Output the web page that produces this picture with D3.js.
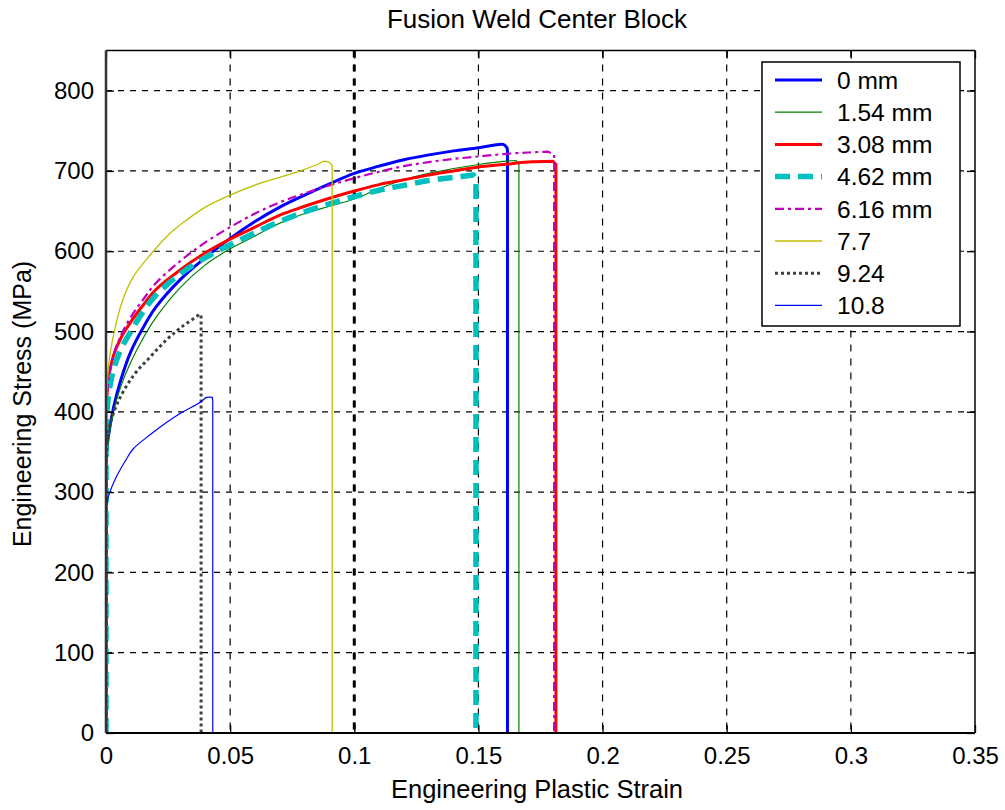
<!DOCTYPE html>
<html><head><meta charset="utf-8">
<script src="https://cdn.jsdelivr.net/npm/d3@7"></script>
<style>
body{margin:0;background:#fff}
svg{display:block}
text{font-family:"Liberation Sans",Arial,sans-serif;fill:#000}
</style>
</head><body>
<svg id="chart" width="1005" height="810"></svg>
<script>
// ---------- data ----------
const chartTitle = "Fusion Weld Center Block";
const xLabel = "Engineering Plastic Strain";
const yLabel = "Engineering Stress (MPa)";
const xTickValues = [0, 0.05, 0.1, 0.15, 0.2, 0.25, 0.3, 0.35];
const xTickLabels = ["0", "0.05", "0.1", "0.15", "0.2", "0.25", "0.3", "0.35"];
const yTickValues = [0, 100, 200, 300, 400, 500, 600, 700, 800];
const yTickLabels = ["0", "100", "200", "300", "400", "500", "600", "700", "800"];
const seriesNames = ["0 mm", "1.54 mm", "3.08 mm", "4.62 mm", "6.16 mm", "7.7", "9.24", "10.8"];
const markerStrain = 0.1;

// each curve: elastic rise at 0, hardening points, then the fracture drop (last point, stress 0)
const strain0mm   = [0, 0, 0.001, 0.003, 0.006, 0.01, 0.015, 0.02, 0.03, 0.04, 0.05, 0.06, 0.07, 0.08, 0.09, 0.1, 0.11, 0.12, 0.13, 0.14, 0.15, 0.156, 0.16, 0.1615, 0.1617];
const stress0mm   = [0, 340, 370, 405, 440, 475, 505, 530, 565, 592, 616, 637, 655, 670, 684, 697, 706, 714, 720, 725, 729, 732, 733, 729, 0];
const strain154mm = [0, 0, 0.001, 0.003, 0.006, 0.01, 0.015, 0.02, 0.03, 0.04, 0.05, 0.06, 0.07, 0.08, 0.09, 0.1, 0.11, 0.12, 0.13, 0.14, 0.15, 0.16, 0.165, 0.1663];
const stress154mm = [0, 330, 365, 400, 432, 462, 492, 517, 555, 583, 603, 619, 635, 647, 656, 665, 678, 689, 697, 703, 708, 712, 713, 0];
const strain308mm = [0, 0, 0.001, 0.003, 0.006, 0.01, 0.015, 0.02, 0.03, 0.04, 0.05, 0.06, 0.07, 0.08, 0.09, 0.1, 0.11, 0.12, 0.13, 0.14, 0.15, 0.16, 0.17, 0.18, 0.1812];
const stress308mm = [0, 400, 440, 470, 492, 512, 533, 552, 577, 598, 615, 630, 645, 656, 666, 675, 683, 689, 695, 700, 705, 708, 711, 712, 0];
const strain462mm = [0, 0, 0.001, 0.003, 0.006, 0.01, 0.015, 0.02, 0.03, 0.04, 0.05, 0.06, 0.07, 0.08, 0.09, 0.1, 0.11, 0.12, 0.13, 0.14, 0.148, 0.149];
const stress462mm = [0, 380, 420, 452, 478, 500, 525, 545, 572, 592, 608, 623, 637, 649, 659, 668, 676, 682, 688, 692, 695, 0];
const strain616mm = [0, 0, 0.001, 0.003, 0.006, 0.01, 0.015, 0.02, 0.03, 0.04, 0.05, 0.06, 0.07, 0.08, 0.09, 0.1, 0.11, 0.12, 0.13, 0.14, 0.15, 0.16, 0.17, 0.178, 0.1805];
const stress616mm = [0, 410, 440, 470, 495, 518, 540, 560, 588, 611, 630, 647, 661, 672, 682, 691, 699, 706, 711, 715, 718, 721, 723, 724, 0];
const strain77    = [0, 0, 0.0008, 0.0028, 0.0068, 0.011, 0.0177, 0.025, 0.0312, 0.04, 0.05, 0.0634, 0.0783, 0.085, 0.0877, 0.0898, 0.0911];
const stress77    = [0, 300, 450, 492, 540, 568, 595, 620, 636, 655, 670, 686, 700, 708, 712, 711, 0];
const strain924   = [0, 0, 0.001, 0.0045, 0.011, 0.0177, 0.0245, 0.031, 0.0366, 0.0375, 0.0383];
const stress924   = [0, 330, 375, 410, 445, 468, 490, 507, 519, 522, 0];
const strain108   = [0, 0, 0.001, 0.004, 0.008, 0.011, 0.018, 0.0245, 0.031, 0.038, 0.0405, 0.0428, 0.043];
const stress108   = [0, 280, 295, 318, 340, 354, 372, 387, 400, 412, 418, 418, 0];

const seriesStrain = [strain0mm, strain154mm, strain308mm, strain462mm, strain616mm, strain77, strain924, strain108];
const seriesStress = [stress0mm, stress154mm, stress308mm, stress462mm, stress616mm, stress77, stress924, stress108];

// ---------- styles ----------
const seriesColors = ["#0000ff", "#008000", "#ff0000", "#00bfbf", "#bf00bf", "#bfbf00", "#404040", "#0000ff"];
const seriesWidths = [3, 1.2, 3, 5.5, 2.2, 1.3, 3, 1.2];
const seriesDashes = [null, null, null, "15,8", "9,4,3,4", null, "3,3", null];

// ---------- layout ----------
const svg = d3.select("#chart");
const L = 106, R = 975, T = 50.5, B = 733;
const x = d3.scaleLinear().domain([0, 0.35]).range([L, R]);
const y = d3.scaleLinear().domain([0, 850]).range([B, T]);

svg.append("rect").attr("width", 1005).attr("height", 810).attr("fill", "#fff");

// grid
const grid = svg.append("g");
grid.selectAll("line.vg").data(xTickValues.slice(1, -1)).enter().append("line")
  .attr("x1", d => x(d)).attr("x2", d => x(d)).attr("y1", T).attr("y2", B)
  .attr("stroke", "#000").attr("stroke-width", 1.2).attr("stroke-dasharray", "7,7");
grid.selectAll("line.hg").data(yTickValues.slice(1)).enter().append("line")
  .attr("x1", L).attr("x2", R).attr("y1", d => y(d)).attr("y2", d => y(d))
  .attr("stroke", "#000").attr("stroke-width", 1.2).attr("stroke-dasharray", "6,6");

// marker line at 0.1
svg.append("line").attr("x1", x(markerStrain)).attr("x2", x(markerStrain)).attr("y1", T).attr("y2", B)
  .attr("stroke", "#000").attr("stroke-width", 3).attr("stroke-dasharray", "7,7");

// curves
svg.append("clipPath").attr("id", "clip").append("rect")
  .attr("x", L).attr("y", T).attr("width", R - L).attr("height", B - T);
const smooth = d3.line().x(d => x(d[0])).y(d => y(d[1])).curve(d3.curveCatmullRom.alpha(0.5));
const curves = svg.append("g").attr("clip-path", "url(#clip)");
seriesNames.forEach((name, i) => {
  const pts = seriesStrain[i].map((s, k) => [s, seriesStress[i][k]]);
  const n = pts.length;
  const body = pts.slice(1, n - 1);
  const last = body[body.length - 1];
  let d = `M${x(pts[0][0])},${y(pts[0][1])}L${x(body[0][0])},${y(body[0][1])}`;
  d += smooth(body).replace(/^M[^A-Za-z]*/, "");
  d += `L${x(pts[n - 1][0])},${y(last[1]) + 3}L${x(pts[n - 1][0])},${y(pts[n - 1][1])}`;
  curves.append("path").attr("d", d)
    .attr("fill", "none").attr("stroke", seriesColors[i])
    .attr("stroke-width", seriesWidths[i])
    .attr("stroke-dasharray", seriesDashes[i])
    .attr("stroke-linejoin", "round");
});

// axes
const xAxisB = d3.axisBottom(x).tickValues(xTickValues).tickFormat((d, i) => xTickLabels[i]).tickSize(-8).tickPadding(14);
const xAxisT = d3.axisTop(x).tickValues(xTickValues).tickFormat("").tickSize(-8);
const yAxisL = d3.axisLeft(y).tickValues(yTickValues).tickFormat((d, i) => yTickLabels[i]).tickSize(-8).tickPadding(12);
const yAxisR = d3.axisRight(y).tickValues(yTickValues).tickFormat("").tickSize(-8);

function styleAxis(g) {
  g.select(".domain").remove();
  g.selectAll(".tick line").attr("stroke", "#000").attr("stroke-width", 1.3);
  g.selectAll(".tick text").attr("font-size", 24).attr("font-family", "Liberation Sans, Arial, sans-serif").attr("fill", "#000");
}
svg.append("g").attr("transform", `translate(0,${B})`).call(xAxisB).call(styleAxis);
svg.append("g").attr("transform", `translate(0,${T})`).call(xAxisT).call(styleAxis);
svg.append("g").attr("transform", `translate(${L},0)`).call(yAxisL).call(styleAxis);
svg.append("g").attr("transform", `translate(${R},0)`).call(yAxisR).call(styleAxis);

// frame
svg.append("line").attr("x1", L).attr("x2", R).attr("y1", T).attr("y2", T).attr("stroke", "#000").attr("stroke-width", 1.5);
svg.append("line").attr("x1", R).attr("x2", R).attr("y1", T).attr("y2", B).attr("stroke", "#000").attr("stroke-width", 1.5);
svg.append("line").attr("x1", L).attr("x2", R).attr("y1", B).attr("y2", B).attr("stroke", "#000").attr("stroke-width", 1.8);
svg.append("line").attr("x1", L).attr("x2", L).attr("y1", T).attr("y2", B).attr("stroke", "#333").attr("stroke-width", 2.5);

// texts
svg.append("text").attr("x", 537).attr("y", 28).attr("text-anchor", "middle").attr("font-size", 26).text(chartTitle);
svg.append("text").attr("x", 537).attr("y", 798).attr("text-anchor", "middle").attr("font-size", 25.5).text(xLabel);
svg.append("text").attr("transform", "translate(31,404) rotate(-90)").attr("text-anchor", "middle").attr("font-size", 25).text(yLabel);

// legend
const lg = svg.append("g");
lg.append("rect").attr("x", 762).attr("y", 62).attr("width", 198).attr("height", 264)
  .attr("fill", "#fff").attr("stroke", "#000").attr("stroke-width", 1.5);
seriesNames.forEach((name, i) => {
  const yy = 80 + i * 32.2;
  lg.append("line").attr("x1", 775).attr("x2", 822).attr("y1", yy).attr("y2", yy)
    .attr("stroke", seriesColors[i]).attr("stroke-width", seriesWidths[i])
    .attr("stroke-dasharray", seriesDashes[i]);
  lg.append("text").attr("x", 837).attr("y", yy).attr("dy", "0.36em").attr("font-size", 24.5).text(name);
});
</script>
</body></html>
